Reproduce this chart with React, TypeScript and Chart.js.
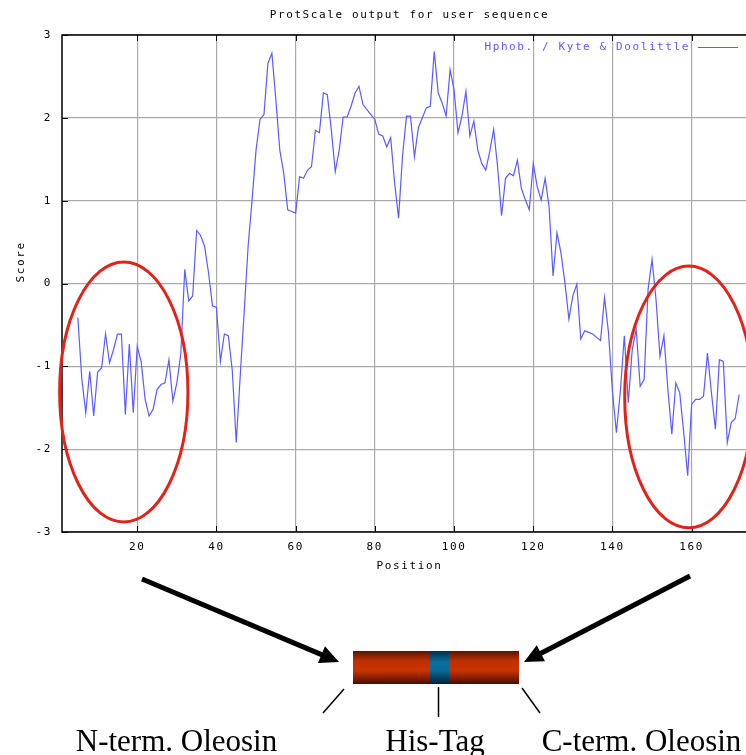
import React, { useEffect, useRef } from "react";
import { Chart, registerables } from "chart.js";

Chart.register(...registerables);

// ---------------- data ----------------
const chartTitle = "ProtScale output for user sequence";
const seriesLabel = "Hphob. / Kyte & Doolittle";
const xAxisTitle = "Position";
const yAxisTitle = "Score";
const sequenceLength = 176;
const firstPosition = 5; // window of 9 -> first score at residue 5
const xTickValues = [20, 40, 60, 80, 100, 120, 140, 160];
const yTickValues = [-3, -2, -1, 0, 1, 2, 3];

// Kyte & Doolittle scores, positions 5 .. 172
const kyteDoolittle = [
  -0.41, -1.15, -1.56, -1.06, -1.6, -1.07, -1.02, -0.61, -0.96, -0.8,
  -0.61, -0.61, -1.58, -0.73, -1.56, -0.76, -0.95, -1.4, -1.6, -1.52,
  -1.28, -1.22, -1.2, -0.92, -1.42, -1.2, -0.85, 0.17, -0.21, -0.15,
  0.64, 0.58, 0.45, 0.13, -0.27, -0.29, -0.94, -0.61, -0.63, -1.05,
  -1.92, -1.12, -0.35, 0.45, 1.01, 1.61, 1.98, 2.04, 2.66, 2.78,
  2.22, 1.61, 1.33, 0.89, 0.87, 0.85, 1.29, 1.27, 1.37, 1.41,
  1.85, 1.82, 2.3, 2.28, 1.86, 1.35, 1.61, 2.01, 2.01, 2.14,
  2.3, 2.38, 2.16, 2.1, 2.04, 1.98, 1.8, 1.78, 1.65, 1.76,
  1.21, 0.79, 1.55, 2.02, 2.02, 1.53, 1.88, 2.0, 2.12, 2.14,
  2.8, 2.3, 2.18, 2.02, 2.58, 2.34, 1.82, 2.02, 2.32, 1.78,
  1.96, 1.61, 1.45, 1.37, 1.59, 1.86, 1.41, 0.82, 1.27, 1.33,
  1.3, 1.49, 1.15, 1.01, 0.89, 1.45, 1.17, 1.01, 1.27, 0.93,
  0.09, 0.61, 0.37, 0.01, -0.43, -0.15, -0.01, -0.67, -0.57, -0.59,
  -0.61, -0.65, -0.69, -0.17, -0.59, -1.3, -1.8, -1.3, -0.63, -1.44,
  -0.8, -0.55, -1.24, -1.16, -0.07, 0.29, -0.19, -0.88, -0.63, -1.28,
  -1.82, -1.2, -1.32, -1.8, -2.32, -1.46, -1.4, -1.4, -1.36, -0.84,
  -1.32, -1.76, -0.92, -0.94, -1.92, -1.68, -1.63, -1.34,
];

// highlighted terminal regions (ellipses), in data units
const regionCenters = [16.6, 159.3];
const regionScores = [-1.31, -1.37];
const regionHalfWidths = [16.2, 16.2];
const regionHalfHeights = [1.57, 1.58];

const domainLabels = ["N-term. Oleosin", "His-Tag", "C-term. Oleosin"];

// ---------------- styles ----------------
const monoFamily = "'DejaVu Sans Mono', monospace";
const lineColor = "#5b5bff";
const gridColor = "#aaaaaa";
const ellipseColor = "#e2231a";

function seg(ctx: CanvasRenderingContext2D, x1: number, y1: number, x2: number, y2: number) {
  ctx.beginPath();
  ctx.moveTo(x1, y1);
  ctx.lineTo(x2, y2);
  ctx.stroke();
}

function arrow(ctx: CanvasRenderingContext2D, x1: number, y1: number, x2: number, y2: number) {
  const ang = Math.atan2(y2 - y1, x2 - x1);
  const headLen = 19;
  const headHalf = 9;
  const bx = x2 - headLen * Math.cos(ang);
  const by = y2 - headLen * Math.sin(ang);
  ctx.lineWidth = 5;
  ctx.strokeStyle = "#000";
  ctx.lineCap = "butt";
  seg(ctx, x1, y1, bx + 2 * Math.cos(ang), by + 2 * Math.sin(ang));
  ctx.fillStyle = "#000";
  ctx.beginPath();
  ctx.moveTo(x2, y2);
  ctx.lineTo(bx + headHalf * Math.sin(ang), by - headHalf * Math.cos(ang));
  ctx.lineTo(bx - headHalf * Math.sin(ang), by + headHalf * Math.cos(ang));
  ctx.closePath();
  ctx.fill();
}

const overlayPlugin = {
  id: "overlay",
  beforeDraw(chart: any) {
    const ctx: CanvasRenderingContext2D = chart.ctx;
    ctx.save();
    ctx.fillStyle = "#ffffff";
    ctx.fillRect(0, 0, chart.width, chart.height);
    ctx.restore();
    (ctx as any).letterSpacing = "1.6px";
  },
  afterDraw(chart: any) {
    const ctx: CanvasRenderingContext2D = chart.ctx;
    const a = chart.chartArea;
    const xs = chart.scales.x;
    const ys = chart.scales.y;
    ctx.save();
    (ctx as any).letterSpacing = "1.6px";

    // frame
    ctx.strokeStyle = "#000";
    ctx.lineWidth = 1.5;
    ctx.beginPath();
    ctx.moveTo(a.right + 10, a.top);
    ctx.lineTo(a.left, a.top);
    ctx.lineTo(a.left, a.bottom);
    ctx.lineTo(a.right + 10, a.bottom);
    ctx.stroke();

    // inward tick marks
    ctx.lineWidth = 1;
    xTickValues.forEach((v) => {
      const px = Math.round(xs.getPixelForValue(v)) + 0.5;
      seg(ctx, px, a.bottom, px, a.bottom - 6);
      seg(ctx, px, a.top, px, a.top + 6);
    });
    yTickValues.forEach((v) => {
      const py = Math.round(ys.getPixelForValue(v)) + 0.5;
      seg(ctx, a.left, py, a.left + 6, py);
    });

    // title
    ctx.font = `11px ${monoFamily}`;
    ctx.fillStyle = "#000";
    ctx.textAlign = "center";
    ctx.textBaseline = "middle";
    ctx.fillText(chartTitle, (a.left + a.right) / 2 + 1, 15.5);

    // x axis title
    ctx.fillText(xAxisTitle, (a.left + a.right) / 2 + 1, 566.5);

    // y axis title (gnuplot style: starts at the centre, goes up)
    ctx.save();
    ctx.translate(21, (a.top + a.bottom) / 2 - 1);
    ctx.rotate(-Math.PI / 2);
    ctx.textAlign = "left";
    ctx.fillText(yAxisTitle, 0, 0);
    ctx.restore();

    // legend
    ctx.fillStyle = lineColor;
    ctx.textAlign = "right";
    ctx.fillText(seriesLabel, 690, 47.5);
    ctx.strokeStyle = lineColor;
    ctx.lineWidth = 1.2;
    seg(ctx, 698, 47.5, 738, 47.5);

    // ellipses around terminal regions
    ctx.strokeStyle = ellipseColor;
    ctx.lineWidth = 3;
    regionCenters.forEach((c, i) => {
      const cx = xs.getPixelForValue(c);
      const cy = ys.getPixelForValue(regionScores[i]);
      const rx = Math.abs(xs.getPixelForValue(c + regionHalfWidths[i]) - cx);
      const ry = Math.abs(ys.getPixelForValue(regionScores[i] + regionHalfHeights[i]) - cy);
      ctx.beginPath();
      ctx.ellipse(cx, cy, rx, ry, 0, 0, Math.PI * 2);
      ctx.stroke();
    });

    // ---- construct diagram below the chart ----
    (ctx as any).letterSpacing = "0px";
    arrow(ctx, 142, 579, 339, 662);
    arrow(ctx, 690, 576, 524, 662);

    const bx = 353, by = 651, bw = 166, bh = 33;
    const g = ctx.createLinearGradient(0, by, 0, by + bh);
    g.addColorStop(0, "#5a1400");
    g.addColorStop(0.3, "#bf3000");
    g.addColorStop(0.6, "#c63300");
    g.addColorStop(1, "#4a0c00");
    ctx.fillStyle = g;
    ctx.fillRect(bx, by, bw, bh);
    const gb = ctx.createLinearGradient(0, by, 0, by + bh);
    gb.addColorStop(0, "#00304a");
    gb.addColorStop(0.35, "#0870a0");
    gb.addColorStop(0.6, "#086a98");
    gb.addColorStop(1, "#002236");
    ctx.fillStyle = gb;
    ctx.fillRect(430, by, 19, bh);

    ctx.strokeStyle = "#000";
    ctx.lineWidth = 1.5;
    seg(ctx, 344, 689, 323, 713);
    seg(ctx, 438.5, 687, 438.5, 717);
    seg(ctx, 522, 688, 540, 713);

    ctx.fillStyle = "#000";
    ctx.font = "31px 'Liberation Serif', 'Times New Roman', serif";
    ctx.textAlign = "center";
    ctx.textBaseline = "alphabetic";
    ctx.fillText(domainLabels[0], 176.5, 751);
    ctx.fillText(domainLabels[1], 435, 751);
    ctx.fillText(domainLabels[2], 641.5, 751);

    ctx.restore();
  },
};

export default function App() {
  const ref = useRef<HTMLCanvasElement>(null);

  useEffect(() => {
    const canvas = ref.current;
    if (!canvas) return;
    const tickFont = { family: monoFamily, size: 11 };
    const chart = new Chart(canvas, {
      type: "line",
      data: {
        datasets: [
          {
            label: seriesLabel,
            data: kyteDoolittle.map((v, i) => ({ x: firstPosition + i, y: v })),
            borderColor: lineColor,
            borderWidth: 1.2,
            pointRadius: 0,
            tension: 0,
            fill: false,
          },
        ],
      },
      options: {
        responsive: false,
        animation: false,
        devicePixelRatio: 1,
        events: [],
        layout: { padding: { top: 35, left: 0, right: 15, bottom: 0 } },
        plugins: {
          legend: { display: false },
          title: { display: false },
          tooltip: { enabled: false },
        },
        scales: {
          x: {
            type: "linear",
            min: 1,
            max: sequenceLength,
            afterBuildTicks: (s: any) => {
              s.ticks = xTickValues.map((value) => ({ value }));
            },
            afterFit: (s: any) => {
              s.height = 223;
            },
            grid: { color: gridColor, lineWidth: 1.2, drawTicks: false },
            border: { display: false },
            ticks: {
              font: tickFont,
              color: "#000",
              padding: 9,
              maxRotation: 0,
              autoSkip: false,
            },
          },
          y: {
            type: "linear",
            min: -3,
            max: 3,
            afterBuildTicks: (s: any) => {
              s.ticks = yTickValues.map((value) => ({ value }));
            },
            afterFit: (s: any) => {
              s.width = 62;
            },
            grid: { color: gridColor, lineWidth: 1.2, drawTicks: false },
            border: { display: false },
            ticks: {
              font: tickFont,
              color: "#000",
              padding: 10,
              autoSkip: false,
              callback: (v: any) => String(v),
            },
          },
        },
      } as any,
      plugins: [overlayPlugin],
    });
    return () => chart.destroy();
  }, []);

  return (
    <div
      style={{
        position: "fixed",
        left: 0,
        top: 0,
        width: 746,
        height: 755,
        overflow: "hidden",
        background: "#fff",
      }}
    >
      <canvas ref={ref} width={770} height={755} style={{ display: "block" }} />
    </div>
  );
}
